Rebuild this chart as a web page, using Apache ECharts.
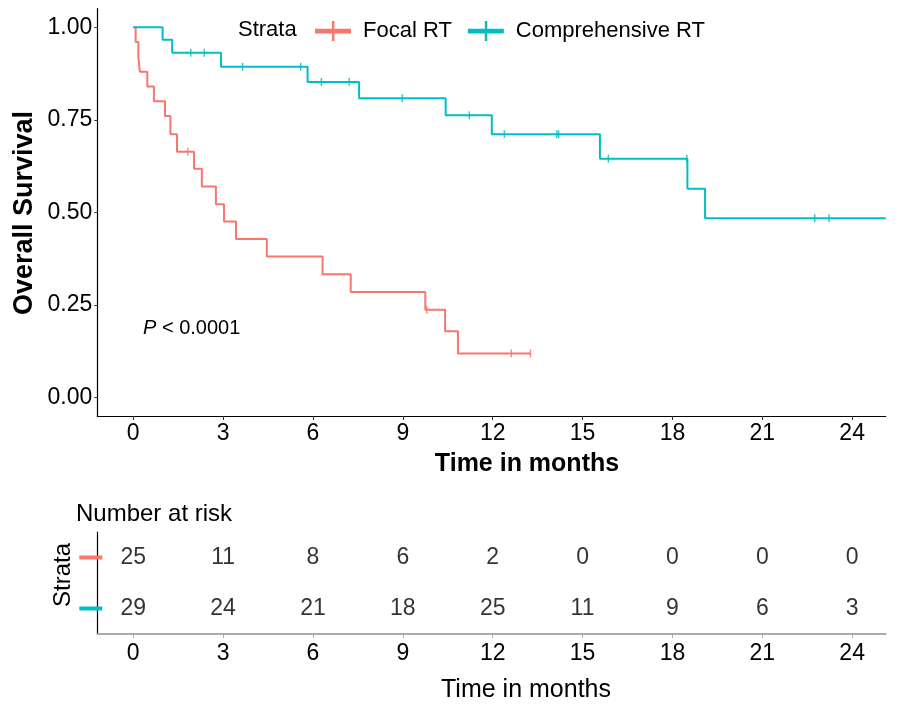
<!DOCTYPE html>
<html>
<head>
<meta charset="utf-8">
<script src="https://cdn.jsdelivr.net/npm/echarts@6/dist/echarts.min.js"></script>
<style>
html,body{margin:0;padding:0;background:#fff;}
#chart{width:898px;height:715px;}
</style>
</head>
<body>
<div id="chart"></div>
<script>
// ---------- data ----------
const seriesNames = ['Focal RT', 'Comprehensive RT'];
const focalTimes = [0, 0.08, 0.17, 0.22, 0.47, 0.69, 1.06, 1.24, 1.46, 2.03, 2.29, 2.76, 3.03, 3.43, 4.46, 6.32, 7.26, 9.75, 10.41, 10.84, 13.26];
const focalSurv  = [1, 0.96, 0.92, 0.88, 0.84, 0.80, 0.76, 0.711, 0.664, 0.618, 0.570, 0.522, 0.475, 0.428, 0.381, 0.333, 0.285, 0.237, 0.179, 0.119, 0.119];
const focalCensor = [1.82, 9.8, 12.62, 13.26];
const compTimes = [0, 0.98, 1.30, 2.93, 5.82, 7.54, 10.43, 11.97, 15.58, 18.50, 19.09, 25.12];
const compSurv  = [1, 0.966, 0.931, 0.893, 0.852, 0.808, 0.762, 0.711, 0.645, 0.564, 0.484, 0.484];
const compCensor = [1.92, 2.37, 3.65, 5.59, 6.28, 7.21, 8.98, 11.22, 12.39, 14.14, 14.2, 15.86, 18.48, 22.75, 23.23];
const xTicks = [0, 3, 6, 9, 12, 15, 18, 21, 24];
const yTicks = [0, 0.25, 0.5, 0.75, 1];
const riskTimes = [0, 3, 6, 9, 12, 15, 18, 21, 24];
const focalRisk = [25, 11, 8, 6, 2, 0, 0, 0, 0];
const compRisk  = [29, 24, 21, 18, 25, 11, 9, 6, 3];
const pText = '< 0.0001';

// ---------- helpers ----------
const RED = '#F8766D', TEAL = '#00BFC4';
const FONT = "'Liberation Sans', Arial, Helvetica, sans-serif";
function survAt(times, surv, t) {
  let s = surv[0];
  for (let i = 0; i < times.length; i++) { if (times[i] <= t) s = surv[i]; }
  return s;
}
const XMIN = -1.2, XMAX = 25.12;
const legendIcon = 'path://M0,7.8 H36 V12.4 H0 Z M17,0 H19.4 V20 H17 Z';

const chart = echarts.init(document.getElementById('chart'), null, {renderer: 'canvas'});
const option = {
  backgroundColor: '#fff',
  animation: false,
  textStyle: {fontFamily: FONT},
  grid: [
    {left: 97.3, right: 12.3, top: 8.7, height: 407.3, containLabel: false},
    {left: 97.3, right: 12.3, top: 532, height: 102, containLabel: false}
  ],
  legend: {
    data: [
      {name: seriesNames[0], icon: legendIcon, itemStyle: {color: RED}},
      {name: seriesNames[1], icon: legendIcon, itemStyle: {color: TEAL}}
    ],
    left: 315, top: 20, padding: 0,
    itemWidth: 36, itemHeight: 20, itemGap: 16,
    textStyle: {fontSize: 22, color: '#000', fontFamily: FONT, padding: [0, 0, 0, 7]},
    selectedMode: false
  },
  xAxis: [
    {
      type: 'value', gridIndex: 0, min: XMIN, max: XMAX,
      axisLine: {show: true, onZero: false, lineStyle: {color: '#000', width: 1.2}},
      axisTick: {show: true, length: 4, lineStyle: {color: '#333'}, customValues: xTicks},
      axisLabel: {fontSize: 23, color: '#000', margin: 6, customValues: xTicks, fontFamily: FONT},
      splitLine: {show: false}
    },
    {
      type: 'value', gridIndex: 1, min: XMIN, max: XMAX,
      axisLine: {show: true, onZero: false, lineStyle: {color: '#ababab', width: 2}},
      axisTick: {show: true, length: 4, lineStyle: {color: '#ababab'}, customValues: riskTimes},
      axisLabel: {fontSize: 23, color: '#000', margin: 8, customValues: riskTimes, fontFamily: FONT},
      splitLine: {show: false}
    }
  ],
  yAxis: [
    {
      type: 'value', gridIndex: 0, min: -0.05, max: 1.05,
      axisLine: {show: true, onZero: false, lineStyle: {color: '#000', width: 1.2}},
      axisTick: {show: true, length: 3, lineStyle: {color: '#333'}, customValues: yTicks},
      axisLabel: {fontSize: 23, color: '#000', margin: 5, customValues: yTicks,
        formatter: v => v.toFixed(2), fontFamily: FONT},
      splitLine: {show: false}
    },
    {
      type: 'category', gridIndex: 1, data: [seriesNames[1], seriesNames[0]],
      axisLine: {show: true, onZero: false, lineStyle: {color: '#000', width: 1.2}},
      axisTick: {show: false},
      axisLabel: {
        margin: -5,
        formatter: v => v === seriesNames[0] ? '{a|}' : '{b|}',
        rich: {
          a: {backgroundColor: RED, width: 23, height: 4},
          b: {backgroundColor: TEAL, width: 23, height: 4}
        }
      },
      splitLine: {show: false}
    }
  ],
  series: [
    {
      name: seriesNames[0], type: 'line', step: 'end', xAxisIndex: 0, yAxisIndex: 0,
      data: focalTimes.map((t, i) => [t, focalSurv[i]]),
      showSymbol: false, symbol: 'none',
      lineStyle: {color: RED, width: 2}, itemStyle: {color: RED}
    },
    {
      name: seriesNames[1], type: 'line', step: 'end', xAxisIndex: 0, yAxisIndex: 0,
      data: compTimes.map((t, i) => [t, compSurv[i]]),
      showSymbol: false, symbol: 'none',
      lineStyle: {color: TEAL, width: 2}, itemStyle: {color: TEAL}
    },
    {
      name: seriesNames[0] + ' censor', type: 'scatter', xAxisIndex: 0, yAxisIndex: 0,
      data: focalCensor.map(t => [t, survAt(focalTimes, focalSurv, t)]),
      symbol: 'rect', symbolSize: [1.5, 8], itemStyle: {color: RED}, silent: true
    },
    {
      name: seriesNames[1] + ' censor', type: 'scatter', xAxisIndex: 0, yAxisIndex: 0,
      data: compCensor.map(t => [t, survAt(compTimes, compSurv, t)]),
      symbol: 'rect', symbolSize: [1.5, 8], itemStyle: {color: TEAL}, silent: true
    },
    {
      name: 'risk focal', type: 'scatter', xAxisIndex: 1, yAxisIndex: 1,
      data: riskTimes.map((t, i) => [t, seriesNames[0], focalRisk[i]]),
      symbolSize: 1, itemStyle: {color: 'rgba(0,0,0,0)'},
      label: {show: true, position: 'inside', formatter: p => String(p.value[2]),
        fontSize: 23, color: '#000', fontFamily: FONT}
    },
    {
      name: 'risk comp', type: 'scatter', xAxisIndex: 1, yAxisIndex: 1,
      data: riskTimes.map((t, i) => [t, seriesNames[1], compRisk[i]]),
      symbolSize: 1, itemStyle: {color: 'rgba(0,0,0,0)'},
      label: {show: true, position: 'inside', formatter: p => String(p.value[2]),
        fontSize: 23, color: '#000', fontFamily: FONT}
    }
  ],
  graphic: [
    {type: 'text', x: 238, y: 30, style: {text: 'Strata', fontSize: 22, fill: '#000', fontFamily: FONT, verticalAlign: 'middle'}},
    {type: 'text', x: 25, y: 213, rotation: Math.PI / 2,
      style: {text: 'Overall Survival', fontSize: 27, fontWeight: 'bold', fill: '#000', fontFamily: FONT,
        align: 'center', verticalAlign: 'middle'}},
    {type: 'text', x: 527, y: 464,
      style: {text: 'Time in months', fontSize: 25, fontWeight: 'bold', fill: '#000', fontFamily: FONT,
        align: 'center', verticalAlign: 'middle'}},
    {type: 'text', x: 143, y: 328,
      style: {text: '{i|P} ' + pText, fontSize: 20, fill: '#000', fontFamily: FONT,
        align: 'left', verticalAlign: 'middle',
        rich: {i: {fontStyle: 'italic', fontSize: 20, fontFamily: FONT}}}},
    {type: 'text', x: 76, y: 514,
      style: {text: 'Number at risk', fontSize: 24, fill: '#000', fontFamily: FONT, verticalAlign: 'middle'}},
    {type: 'text', x: 63, y: 575, rotation: Math.PI / 2,
      style: {text: 'Strata', fontSize: 24, fill: '#000', fontFamily: FONT, align: 'center', verticalAlign: 'middle'}},
    {type: 'text', x: 526, y: 690,
      style: {text: 'Time in months', fontSize: 25, fill: '#000', fontFamily: FONT, align: 'center', verticalAlign: 'middle'}}
  ]
};
chart.setOption(option);
</script>
</body>
</html>
